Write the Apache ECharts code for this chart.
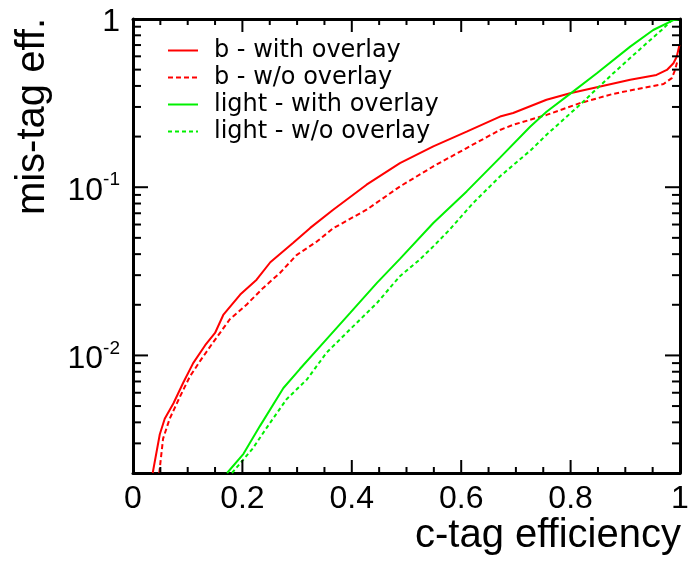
<!DOCTYPE html>
<html>
<head>
    <meta charset="UTF-8">
    <title>mis-tag vs c-tag efficiency</title>
    <script src="https://cdn.jsdelivr.net/npm/echarts@6/dist/echarts.min.js"></script>
</head>
<body style="margin:0;background:#fff">
<div id="main" style="width:692px;height:561px"></div>
<script type="text/javascript">
    // c-tag efficiency / mis-tag efficiency
    var bWithEff = [0.036, 0.049, 0.058, 0.074, 0.092, 0.110, 0.132, 0.150, 0.165, 0.196, 0.226, 0.251, 0.293, 0.324, 0.366, 0.427, 0.488, 0.549, 0.610, 0.671, 0.695, 0.756, 0.799, 0.848, 0.909, 0.957, 0.976, 0.988, 0.994, 0.999];
    var bWithMis = [0.002, 0.0034, 0.0042, 0.0052, 0.0069, 0.0090, 0.0115, 0.0136, 0.0174, 0.0230, 0.0282, 0.0358, 0.0467, 0.0573, 0.0735, 0.1035, 0.139, 0.175, 0.214, 0.263, 0.276, 0.331, 0.362, 0.393, 0.435, 0.465, 0.498, 0.546, 0.597, 0.70];

    var bWoEff = [0.048, 0.055, 0.067, 0.086, 0.104, 0.125, 0.146, 0.177, 0.208, 0.238, 0.269, 0.299, 0.336, 0.366, 0.427, 0.488, 0.549, 0.610, 0.671, 0.695, 0.756, 0.817, 0.878, 0.939, 0.970, 0.985, 0.991, 0.995];
    var bWoMis = [0.002, 0.0032, 0.0042, 0.0057, 0.0075, 0.0095, 0.0119, 0.0164, 0.0201, 0.0252, 0.031, 0.0395, 0.0475, 0.057, 0.0735, 0.101, 0.133, 0.171, 0.219, 0.235, 0.269, 0.316, 0.359, 0.393, 0.411, 0.445, 0.498, 0.56];

    var lightWithEff = [0.172, 0.202, 0.232, 0.275, 0.305, 0.354, 0.397, 0.446, 0.488, 0.549, 0.610, 0.671, 0.726, 0.756, 0.799, 0.848, 0.909, 0.951, 0.988, 1.0];
    var lightWithMis = [0.002, 0.0026, 0.0038, 0.0064, 0.0083, 0.0125, 0.0179, 0.027, 0.0375, 0.0613, 0.0944, 0.150, 0.229, 0.281, 0.359, 0.476, 0.685, 0.86, 0.986, 1.0];

    var lightWoEff = [0.181, 0.219, 0.244, 0.281, 0.318, 0.354, 0.397, 0.446, 0.488, 0.524, 0.549, 0.579, 0.622, 0.671, 0.728, 0.756, 0.817, 0.878, 0.939, 0.970, 0.985, 1.0];
    var lightWoMis = [0.002, 0.0028, 0.0037, 0.0055, 0.0072, 0.0104, 0.0143, 0.0205, 0.0296, 0.0371, 0.0445, 0.056, 0.0806, 0.116, 0.167, 0.205, 0.309, 0.476, 0.718, 0.88, 0.986, 1.0];

    var seriesNames = ['b - with overlay', 'b - w/o overlay', 'light - with overlay', 'light - w/o overlay'];

    // tick positions
    var xMajorTicks = [0, 0.2, 0.4, 0.6, 0.8, 1];
    var xMinorTicks = [0.05, 0.1, 0.15, 0.25, 0.3, 0.35, 0.45, 0.5, 0.55, 0.65, 0.7, 0.75, 0.85, 0.9, 0.95];
    var yMajorTicks = [0.01, 0.1, 1];
    var yMinorTicks = [0.002, 0.003, 0.004, 0.005, 0.006, 0.007, 0.008, 0.009,
        0.02, 0.03, 0.04, 0.05, 0.06, 0.07, 0.08, 0.09,
        0.2, 0.3, 0.4, 0.5, 0.6, 0.7, 0.8, 0.9];
    var yLabelExp = [-2, -1, 0];
    var yMin = 0.002, yMax = 1;

    var font = '"Liberation Sans", Arial, sans-serif';
    var black = '#000';

    function pairs(xs, ys) {
        return xs.map(function (x, i) { return [x, ys[i]]; });
    }

    // tick marks: [x, y, major, onYAxis]
    var tickData = [];
    xMajorTicks.forEach(function (v) { tickData.push([v, yMin, 1, 0]); });
    xMinorTicks.forEach(function (v) { tickData.push([v, yMin, 0, 0]); });
    yMajorTicks.forEach(function (v) { tickData.push([0, v, 1, 1]); });
    yMinorTicks.forEach(function (v) { tickData.push([0, v, 0, 1]); });

    function renderTick(params, api) {
        var v = api.value(0), m = api.value(1), major = api.value(2), onY = api.value(3);
        var style = {stroke: black, lineWidth: 2};
        var a, b, len;
        if (onY) {
            a = api.coord([0, m]);
            b = api.coord([1, m]);
            len = major ? 15 : 8;
            return {type: 'group', children: [
                {type: 'line', shape: {x1: a[0], y1: a[1], x2: a[0] + len, y2: a[1]}, style: style},
                {type: 'line', shape: {x1: b[0], y1: b[1], x2: b[0] - len, y2: b[1]}, style: style}
            ]};
        }
        a = api.coord([v, yMin]);
        b = api.coord([v, yMax]);
        len = major ? 13 : 6;
        return {type: 'group', children: [
            {type: 'line', shape: {x1: a[0], y1: a[1], x2: a[0], y2: a[1] - len}, style: style},
            {type: 'line', shape: {x1: b[0], y1: b[1], x2: b[0], y2: b[1] + len}, style: style}
        ]};
    }

    // frame line of the log axis (carries the data)
    function logAxis(pos) {
        return {
            type: 'log',
            logBase: 10,
            position: pos,
            min: yMin,
            max: yMax,
            splitLine: {show: false},
            axisLine: {show: true, onZero: false, lineStyle: {color: black, width: 3}},
            axisTick: {show: false},
            axisLabel: {show: false}
        };
    }

    function xAxis(pos) {
        return {
            type: 'value',
            position: pos,
            min: 0,
            max: 1,
            interval: 0.2,
            splitLine: {show: false},
            axisLine: {show: true, onZero: false, lineStyle: {color: black, width: 3}},
            axisTick: {show: false},
            axisLabel: pos === 'bottom' ? {show: true, margin: 10, fontSize: 32, fontFamily: font, color: black} : {show: false}
        };
    }

    var lineColors = ['#ff0000', '#ff0000', '#00f000', '#00f000'];
    var lineDash = ['solid', [5, 3], 'solid', [4, 3]];
    var dataSets = [pairs(bWithEff, bWithMis), pairs(bWoEff, bWoMis),
        pairs(lightWithEff, lightWithMis), pairs(lightWoEff, lightWoMis)];

    var series = seriesNames.map(function (name, i) {
        return {
            name: name,
            type: 'line',
            xAxisIndex: 0,
            yAxisIndex: 0,
            symbol: 'none',
            showSymbol: false,
            clip: true,
            lineStyle: {color: lineColors[i], width: 2, type: lineDash[i]},
            itemStyle: {color: lineColors[i]},
            data: dataSets[i]
        };
    });
    series.push({
        type: 'custom',
        name: 'ticks',
        xAxisIndex: 0,
        yAxisIndex: 0,
        silent: true,
        clip: false,
        z: 5,
        encode: {x: 0, y: 1},
        renderItem: renderTick,
        data: tickData
    });

    var myChart = echarts.init(document.getElementById('main'));
    var option = {
        animation: false,
        grid: {left: 133, right: 12, top: 19, bottom: 88},
        legend: {
            orient: 'vertical',
            left: 162,
            top: 32,
            itemWidth: 30,
            itemHeight: 14,
            itemGap: 0,
            itemStyle: {opacity: 0},
            data: seriesNames,
            textStyle: {fontSize: 24, fontFamily: '"DejaVu Sans", sans-serif', color: black,
                lineHeight: 27, padding: [0, 0, 0, 11]}
        },
        xAxis: [xAxis('bottom'), xAxis('top')],
        yAxis: [
            logAxis('left'),
            logAxis('right'),
            {
                // label axis in log10 units, same pixel span as the log axis
                type: 'value',
                position: 'left',
                min: Math.log10(yMin),
                max: 0,
                splitLine: {show: false},
                axisLine: {show: false, onZero: false},
                axisTick: {show: false},
                axisLabel: {
                    show: true,
                    customValues: yLabelExp,
                    margin: 13,
                    padding: [7, 0, 0, 0],
                    formatter: function (v) {
                        if (v === 0) return '{b|1}';
                        return '{b|10}{s|' + v + '}';
                    },
                    rich: {
                        b: {fontSize: 32, fontFamily: font, color: black, lineHeight: 40},
                        s: {fontSize: 19, fontFamily: font, color: black, lineHeight: 19, verticalAlign: 'top'}
                    }
                }
            }
        ],
        graphic: [
            {
                type: 'text',
                x: 33,
                y: 18,
                rotation: Math.PI / 2,
                style: {text: 'mis-tag eff.', fontSize: 40, fontFamily: font, fill: black,
                    align: 'right', verticalAlign: 'middle'}
            },
            {
                type: 'text',
                x: 681,
                y: 536,
                style: {text: 'c-tag efficiency', fontSize: 40, fontFamily: font, fill: black,
                    align: 'right', verticalAlign: 'middle'}
            }
        ],
        series: series
    };
    myChart.setOption(option);
</script>
</body>
</html>
